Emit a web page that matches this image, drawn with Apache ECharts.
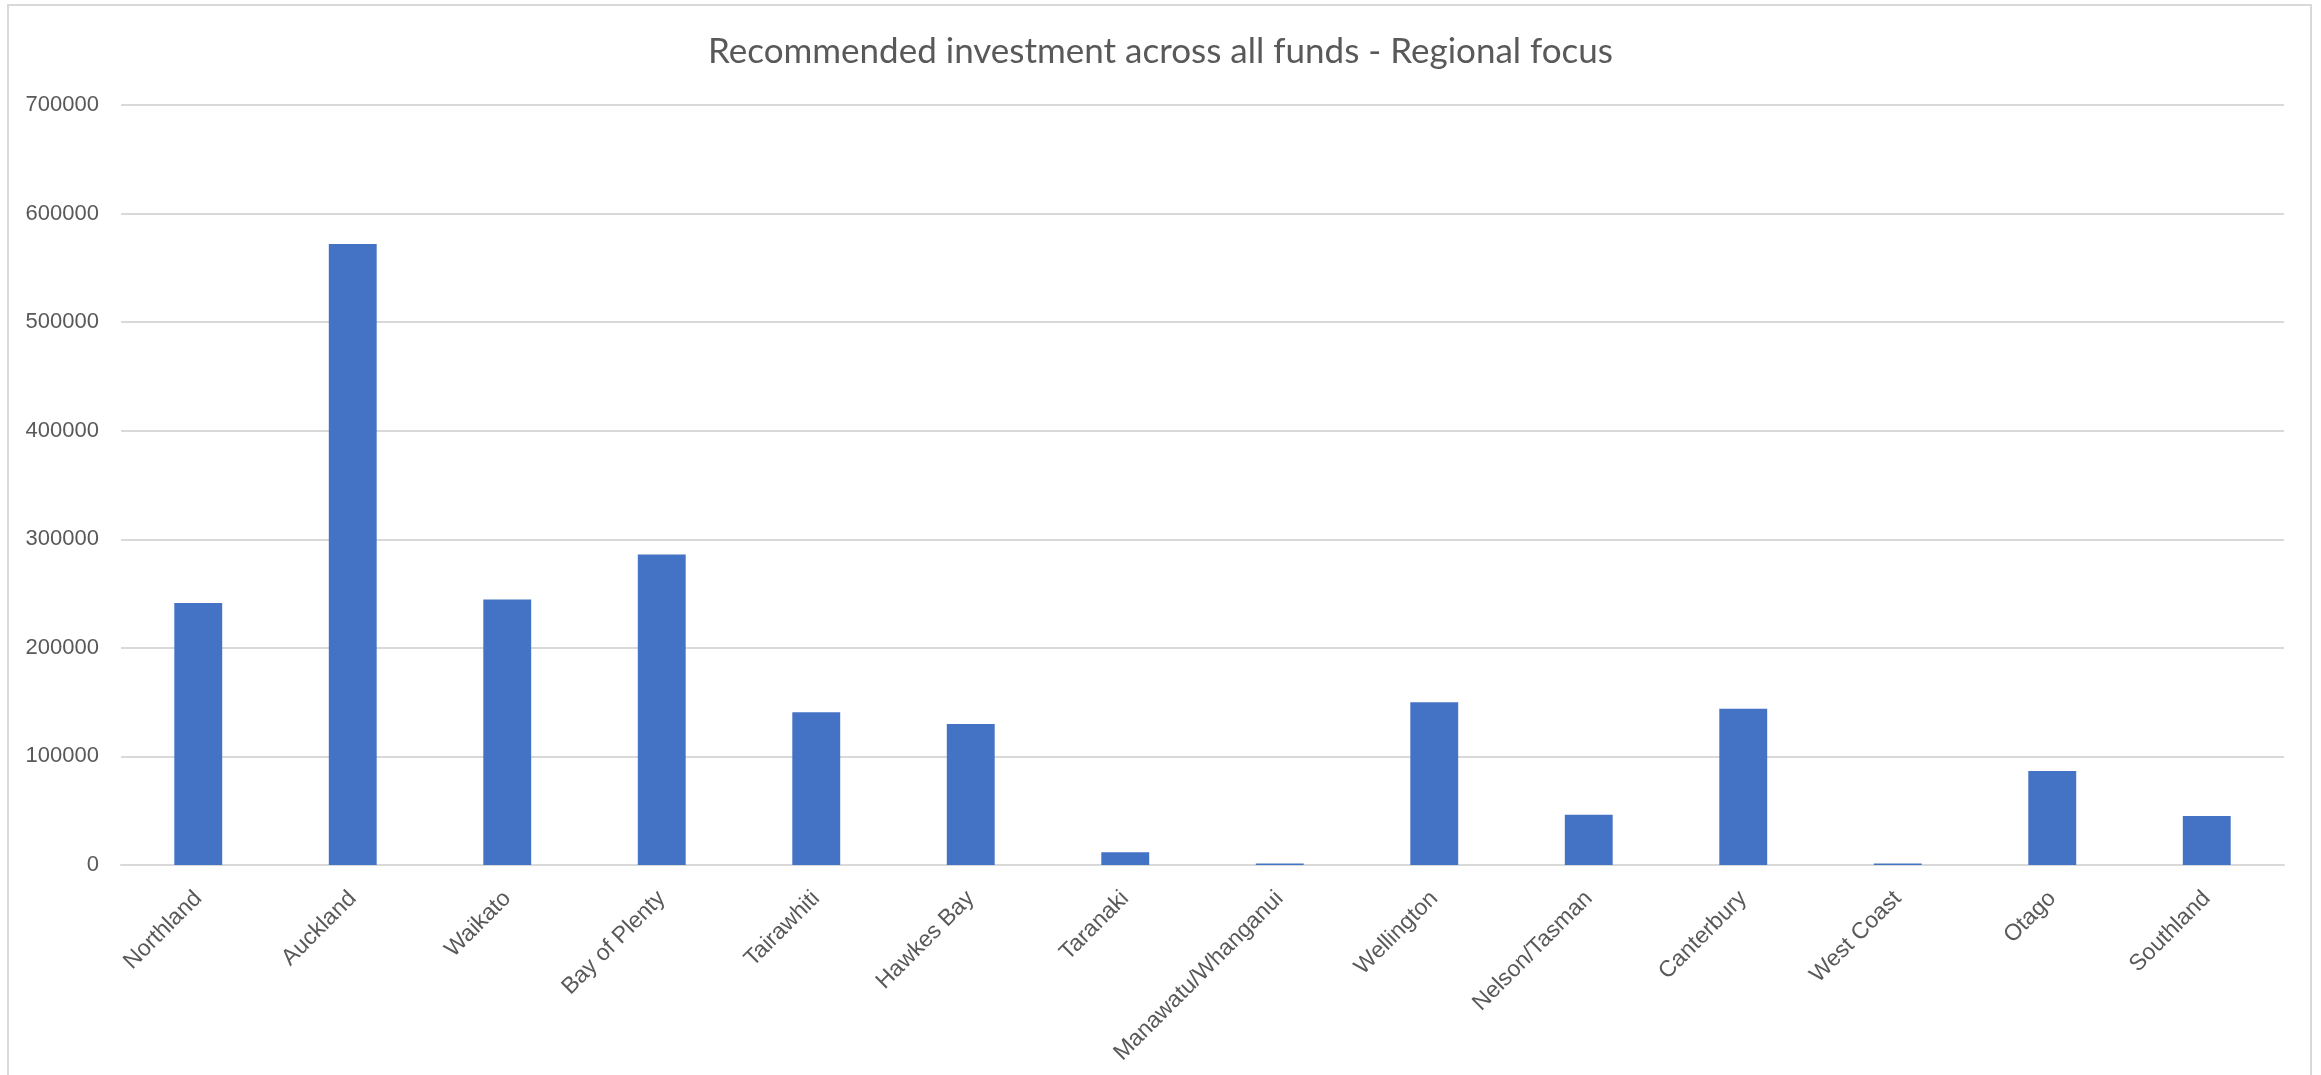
<!DOCTYPE html>
<html>
<head>
<meta charset="utf-8">
<title>Recommended investment across all funds - Regional focus</title>
<script src="https://cdn.jsdelivr.net/npm/echarts@6/dist/echarts.min.js"></script>
<style>
  html, body { margin: 0; padding: 0; background: #fff; }
  #chart { width: 2321px; height: 1075px; }
</style>
</head>
<body>
<div id="chart"></div>
<script>
const regions = [
  'Northland', 'Auckland', 'Waikato', 'Bay of Plenty', 'Tairawhiti',
  'Hawkes Bay', 'Taranaki', 'Manawatu/Whanganui', 'Wellington',
  'Nelson/Tasman', 'Canterbury', 'West Coast', 'Otago', 'Southland'
];
const investment = [
  241300, 572000, 244600, 286000, 140800,
  129800, 11700, 1300, 150000,
  46300, 143900, 1300, 86500, 45100
];
const yTicks = { min: 0, max: 700000, step: 100000 };

const textColor = '#595959';
const gridColor = '#D9D9D9';
const labelFont = '"Liberation Sans", "DejaVu Sans", sans-serif';

const chart = echarts.init(document.getElementById('chart'));

chart.setOption({
  backgroundColor: '#fff',
  animation: false,
  title: {
    text: 'Recommended investment across all funds - Regional focus',
    left: 'center',
    top: 29,
    textStyle: {
      fontFamily: 'Lato, "Liberation Sans", sans-serif',
      fontWeight: 400,
      fontSize: 35,
      color: textColor
    }
  },
  graphic: [
    {
      type: 'rect',
      shape: { x: 8, y: 5, width: 2303, height: 1085 },
      style: { fill: 'none', stroke: gridColor, lineWidth: 2 },
      silent: true
    }
  ],
  grid: { left: 121, right: 37, top: 105, bottom: 210 },
  xAxis: {
    type: 'category',
    data: regions,
    axisTick: { show: false },
    axisLine: { lineStyle: { color: gridColor, width: 2 } },
    axisLabel: {
      interval: 0,
      rotate: 45,
      margin: 30,
      color: textColor,
      fontSize: 23,
      fontFamily: labelFont
    }
  },
  yAxis: {
    type: 'value',
    min: yTicks.min,
    max: yTicks.max,
    interval: yTicks.step,
    axisLine: { show: false },
    axisTick: { show: false },
    splitLine: { lineStyle: { color: gridColor, width: 2 } },
    axisLabel: {
      margin: 22,
      color: textColor,
      fontSize: 22,
      fontFamily: labelFont,
      formatter: v => String(v)
    }
  },
  series: [
    {
      name: 'Investment',
      type: 'bar',
      data: investment,
      barWidth: '31%',
      itemStyle: { color: '#4472C4' }
    }
  ]
});
</script>
</body>
</html>
